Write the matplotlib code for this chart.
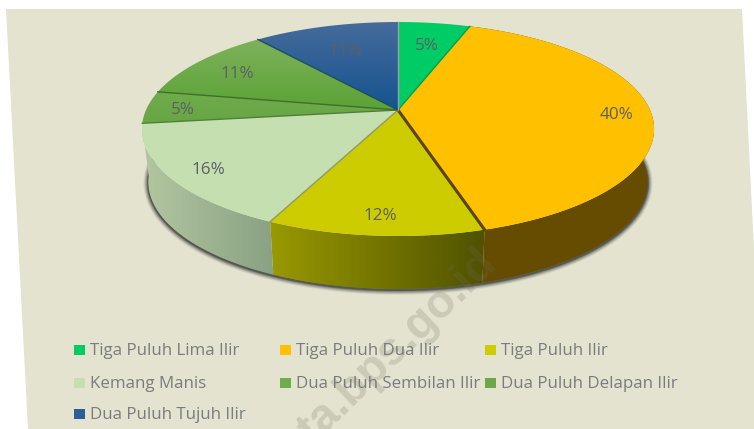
"""
3D style pie chart of Palembang districts, drawn in pixel coordinates.
"""

import matplotlib
matplotlib.use("Agg")
import matplotlib.pyplot as plt
from matplotlib.colors import LinearSegmentedColormap
from matplotlib.patches import Polygon, Rectangle
import numpy as np

plt.rcParams["font.family"] = ["Open Sans", "DejaVu Sans"]

# -- Data ---------------------------------------------------------------------
districts = ["Tiga Puluh Lima Ilir", "Tiga Puluh Dua Ilir", "Tiga Puluh Ilir",
             "Kemang Manis", "Dua Puluh Sembilan Ilir",
             "Dua Puluh Delapan Ilir", "Dua Puluh Tujuh Ilir"]
shares = [5.4, 40.0, 11.6, 16.0, 4.9, 11.2, 10.9]

# -- Colors -------------------------------------------------------------------
BG        = "#E3E3CF"
TEXT_GRAY = "#7C7C80"
LABEL     = "#5F5F62"
top_hi   = ["#00CC66", "#FFC000", "#CCCC00", "#C5DFB0", "#6FAC4C", "#7DB25C", "#466B9C"]
top_lo   = ["#00CC66", "#FFC000", "#CCCC00", "#C5DFB0", "#68A644", "#5CA235", "#15548E"]
wall_l   = ["#007A3D", "#664C00", "#999900", "#B2C6A0", "#436B2C", "#436B2C", "#0D3255"]
wall_r   = ["#007A3D", "#664C00", "#505200", "#8AA283", "#436B2C", "#436B2C", "#0D3255"]
edges    = ["#00A050", "#5A4400", "#8F9A60", "#4F7F3A", "#3F6F2A", "#1F4F5F", "#A0A0A0"]
swatch   = ["#00CC66", "#FFC000", "#CCCC00", "#C5DFB0", "#6FAC4C", "#6AA948", "#2A5F97"]
front_slices = [1, 2, 3]

# -- Pie geometry (perspective mapping of a unit disc) ------------------------
CX, CY = 398, 110
AX, AY, K = 252, 103.6, 0.1776
WALL_H = 53
WALL_SX = 0.975
label_r = [0.74, 0.86, 0.85, 0.85, 0.86, 0.80, 0.71]


def project(deg, r=1.0):
    """Angle clockwise from the back of the pie to pixel offset from the apex."""
    t = np.radians(deg)
    x, y = r * np.sin(t), -r * np.cos(t)
    w = 1 - K * y
    return AX * x / w, AY * y / w


def rim(a0, a1, n=80):
    dx, dy = project(np.linspace(a0, a1, n))
    return CX + dx, CY + dy


def floor(a0, a1, n=80):
    dx, dy = project(np.linspace(a0, a1, n))
    return CX + dx * WALL_SX, CY + dy + WALL_H


def gradient_fill(xs, ys, c0, c1, horizontal, zorder):
    """Fill a polygon with a two color gradient, through a clipped image."""
    patch = Polygon(np.column_stack([xs, ys]), closed=True, facecolor="none",
                    edgecolor="none", zorder=zorder)
    ax.add_patch(patch)
    cmap = LinearSegmentedColormap.from_list("grad", [c0, c1])
    ramp = np.linspace(0, 1, 64)
    ramp = ramp.reshape(1, -1) if horizontal else ramp.reshape(-1, 1)
    im = ax.imshow(ramp, cmap=cmap, aspect="auto", interpolation="bilinear",
                   extent=[xs.min(), xs.max(), ys.max(), ys.min()], zorder=zorder)
    im.set_clip_path(patch)


fig, ax = plt.subplots(figsize=(7.54, 4.29), dpi=100)
fig.patch.set_facecolor("white")
ax.set_position([0, 0, 1, 1])
ax.axis("off")

# Slanted sheet behind the chart
ax.add_patch(Polygon([(6, 9), (742, 9), (763, 429), (28, 429)],
                     facecolor=BG, edgecolor="none", zorder=0))

bounds = np.concatenate([[0], np.cumsum(shares)]) / sum(shares) * 360

# Soft shadow under the wall
sx, sy = floor(75, 283, 200)
for lw, al in zip([7, 5.5, 4, 2.5, 1.5], [0.08, 0.14, 0.2, 0.28, 0.36]):
    ax.plot(sx, sy + 1, color="#202020", lw=lw, alpha=al, zorder=1,
            solid_capstyle="round")

# Walls of the slices facing the viewer, shaded from left to right
for i in front_slices:
    rx, ry = rim(bounds[i], bounds[i + 1])
    fx, fy = floor(bounds[i], bounds[i + 1])
    gradient_fill(np.r_[rx, fx[::-1]], np.r_[ry, fy[::-1]],
                  wall_l[i], wall_r[i], True, 2)

# Top faces with a vertical gradient
for i, (a0, a1) in enumerate(zip(bounds[:-1], bounds[1:])):
    rx, ry = rim(a0, a1, 120)
    gradient_fill(np.r_[CX, rx], np.r_[CY, ry], top_hi[i], top_lo[i], False, 3)

# Slice borders
for i, a in enumerate(bounds[1:]):
    dx, dy = project(a)
    lw = 2.2 if i == 1 else 1.0
    ax.plot([CX, CX + dx], [CY, CY + dy], color=edges[i], lw=lw, zorder=4)

# Percentage labels
for i, (a0, a1) in enumerate(zip(bounds[:-1], bounds[1:])):
    dx, dy = project((a0 + a1) / 2, label_r[i])
    ax.text(CX + dx + 1, CY + dy + 3, "%.0f%%" % shares[i], ha="center", va="center",
            fontsize=12.3, color=LABEL, zorder=5)

# Legend, three entries per row
col_x = [74, 280, 485]
row_y = [350, 382.5, 414]
for i, name in enumerate(districts):
    x, y = col_x[i % 3], row_y[i // 3]
    ax.add_patch(Rectangle((x, y - 5), 11, 10, facecolor=swatch[i],
                           edgecolor="none", zorder=5))
    ax.text(x + 16, y + 1, name, ha="left", va="center", fontsize=12.2,
            color=TEXT_GRAY, zorder=5)

# Watermark
ax.text(398, 347, "ta.bps.go.id", ha="center", va="center", rotation=44,
        rotation_mode="anchor", fontsize=33, fontweight="bold",
        family="Liberation Sans", color="#6E6E60", alpha=0.21, zorder=6)

ax.set_xlim(0, 754)
ax.set_ylim(429, 0)

fig.savefig("out.png", dpi=100, facecolor=fig.get_facecolor())
plt.close(fig)
